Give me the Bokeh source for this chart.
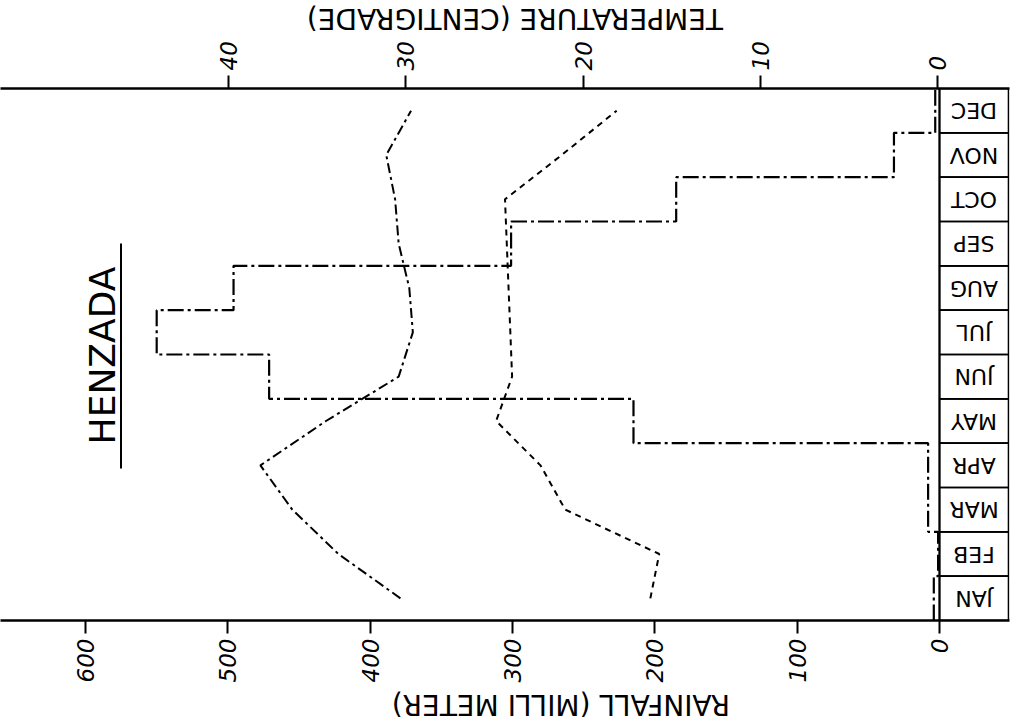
import math
from bokeh.plotting import figure
from bokeh.layouts import column
from bokeh.models import (Range1d, FactorRange, LinearAxis, FixedTicker, Span,
                          Label, ColumnDataSource, BoxAnnotation)
from bokeh.embed import file_html
from bokeh.resources import INLINE
from bokeh.core.properties import value

# ---------------- data ----------------
months = ["JAN", "FEB", "MAR", "APR", "MAY", "JUN",
          "JUL", "AUG", "SEP", "OCT", "NOV", "DEC"]
rainfall_mm = [4, 1, 8, 8, 215, 471, 550, 496, 301, 185, 32, 3]
temp_max = [30.3, 33.8, 36.4, 38.2, 34.5, 30.4, 29.6, 29.8, 30.4, 30.6, 31.1, 29.7]
temp_min = [16.2, 15.7, 21.0, 22.4, 24.9, 24.0, 24.1, 24.2, 24.3, 24.4, 21.2, 18.1]
rain_ticks = [0, 100, 200, 300, 400, 500, 600]
temp_ticks = [0, 10, 20, 30, 40]
rain_title = "RAINFALL (MILLI METER)"
temp_title = "TEMPERATURE (CENTIGRADE)"
station = "HENZADA"

# ---------------- layout helpers (canvas pixels -> data units) ----------------
PX_PER_MM = 1.4233      # rainfall scale
PX_PER_DEG = 17.725     # temperature scale
RAIN0_PX = 939          # x of 0 mm
TEMP0_PX = 937          # x of 0 deg
W = 1012
TOP_H = 36              # strip holding the temperature title
BOT_H = 36              # strip holding the rainfall title
FRAME_L, FRAME_R = 0, 1009
FRAME_T, FRAME_B = 88, 620          # page coordinates of the plot frame
MAIN_TOP = FRAME_T - TOP_H
MAIN_BOT = 686 - FRAME_B
MAIN_H = MAIN_TOP + (FRAME_B - FRAME_T) + MAIN_BOT
BAND = (FRAME_B - FRAME_T) / 12.0


def rx(px):
    return (RAIN0_PX - px) / PX_PER_MM


def tx(px):
    return (TEMP0_PX - px) / PX_PER_DEG


def sy(py):
    return (FRAME_B - py) / BAND


FONT = value("DejaVu Sans")

p = figure(width=W, height=MAIN_H, output_backend="svg", toolbar_location=None,
           x_range=Range1d(rx(FRAME_L), rx(FRAME_R)),
           y_range=FactorRange(factors=months, range_padding=0, factor_padding=0),
           y_axis_location=None,
           min_border_left=FRAME_L, min_border_right=W - FRAME_R,
           min_border_top=MAIN_TOP, min_border_bottom=MAIN_BOT)
p.extra_x_ranges = {"temp": Range1d(tx(FRAME_L), tx(FRAME_R))}
p.xgrid.visible = False
p.ygrid.visible = False
p.outline_line_color = None
p.background_fill_color = "white"
p.border_fill_color = "white"


def style_axis(ax):
    ax.axis_line_width = 2.5
    ax.axis_line_color = "black"
    ax.major_tick_out = 13
    ax.major_tick_in = 0
    ax.major_tick_line_width = 2
    ax.minor_tick_out = 0
    ax.minor_tick_in = 0
    ax.major_label_orientation = math.pi / 2
    ax.major_label_standoff = 5
    ax.major_label_text_font = "DejaVu Sans"
    ax.major_label_text_font_size = "23px"
    ax.major_label_text_color = "black"
    ax.major_label_text_font_style = "italic"


# rainfall axis (bottom)
rain_axis = p.xaxis[0]
rain_axis.ticker = FixedTicker(ticks=rain_ticks)
style_axis(rain_axis)

# temperature axis (top)
temp_axis = LinearAxis(x_range_name="temp", ticker=FixedTicker(ticks=temp_ticks))
style_axis(temp_axis)
p.add_layout(temp_axis, "above")

# zero line of rainfall
p.add_layout(Span(location=0, dimension="height", line_color="black", line_width=2))

# rainfall as vertical step line (one band per month)
step_x, step_y = [], []
for m, r in zip(months, rainfall_mm):
    step_x += [r, r]
    step_y += [(m, -0.5), (m, 0.5)]
p.line(x=step_x, y=step_y, line_color="black", line_width=2.2, line_dash="16 4 3 4")

# temperature lines
src = ColumnDataSource(dict(month=months, tmax=temp_max, tmin=temp_min))
p.line(x="tmax", y="month", source=src, x_range_name="temp",
       line_color="black", line_width=2, line_dash="10 4 3 4")
p.line(x="tmin", y="month", source=src, x_range_name="temp",
       line_color="black", line_width=2, line_dash="6 5")

# month boxes column (right of the zero line)
box_c = rx(973.5)
box_w = rx(939) - rx(1008)
p.rect(x=box_c, y=months, width=box_w, height=1, fill_color=None,
       line_color="black", line_width=1.6)
p.text(x=box_c, y=months, text=months, angle=math.pi,
       text_align="center", text_baseline="middle",
       text_font=FONT, text_font_size="22px", text_color="black")

# station title with underline
p.add_layout(Label(x=rx(102), y=sy(355), text=station, angle=math.pi / 2,
                   text_align="center", text_baseline="middle",
                   text_font="DejaVu Sans", text_font_size="36px", text_color="black"))
p.add_layout(BoxAnnotation(left=rx(121.5), right=rx(119.5), bottom=sy(468), top=sy(243),
                           fill_color="black", fill_alpha=1, line_color=None))

# the reference has no left frame edge: mask the stray frame stroke
p.add_layout(BoxAnnotation(left=rx(-2), right=rx(5), bottom=sy(617.5), top=sy(90.5),
                           fill_color="white", fill_alpha=1, line_color=None,
                           level="overlay"))


def title_strip(text, height, cx, size):
    f = figure(width=W, height=height, output_backend="svg", toolbar_location=None,
               x_range=Range1d(0, W), y_range=Range1d(0, height),
               x_axis_location=None, y_axis_location=None,
               min_border=0)
    f.outline_line_color = None
    f.xgrid.visible = False
    f.ygrid.visible = False
    f.text(x=[cx], y=[height / 2.0], text=[text], angle=math.pi,
           text_align="center", text_baseline="middle",
           text_font=FONT, text_font_size=size, text_color="black")
    return f


top = title_strip(temp_title, TOP_H, 516, "28px")
bot = title_strip(rain_title, BOT_H, 562, "28px")

layout = column(top, p, bot, spacing=0)
open("out.html", "w").write(file_html(layout, INLINE))
